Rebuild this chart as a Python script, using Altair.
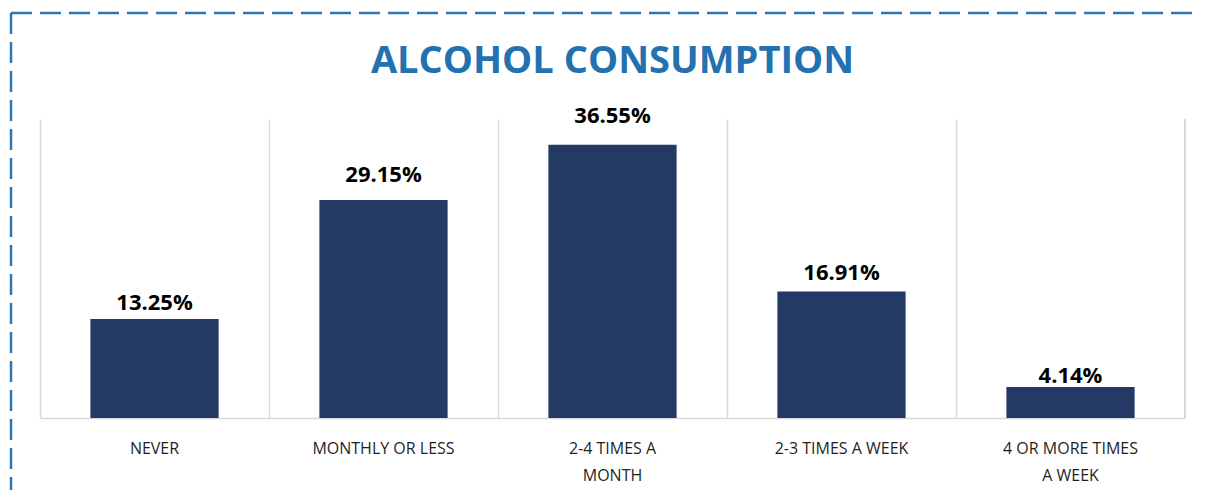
import altair as alt
import pandas as pd

categories = ["NEVER", "MONTHLY OR LESS", "2-4 TIMES A MONTH", "2-3 TIMES A WEEK", "4 OR MORE TIMES A WEEK"]
values = [13.25, 29.15, 36.55, 16.91, 4.14]
value_labels = ["13.25%", "29.15%", "36.55%", "16.91%", "4.14%"]
title_text = "ALCOHOL CONSUMPTION"

df = pd.DataFrame({"cat": categories, "val": values, "lbl": value_labels})

W, H = 1145, 299
BORDER = "#2E75B6"
GRID = "#D9D9D9"

x_enc = alt.X(
    "cat:N",
    sort=categories,
    title=None,
    scale=alt.Scale(paddingInner=0, paddingOuter=0),
    axis=alt.Axis(
        labelAngle=0,
        labelFont="Open Sans",
        labelFontSize=16,
        labelColor="#1F1F1F",
        labelBaseline="alphabetic",
        labelPadding=35,
        labelLineHeight=27,
        labelLimit=400,
        ticks=False,
        domainColor=GRID,
        domainWidth=1.5,
        grid=True,
        gridColor=GRID,
        gridWidth=1.5,
        bandPosition=0,
        labelExpr="datum.value == '2-4 TIMES A MONTH' ? ['2-4 TIMES A', 'MONTH'] : datum.value == '4 OR MORE TIMES A WEEK' ? ['4 OR MORE TIMES', 'A WEEK'] : datum.label",
    ),
)
y_enc = alt.Y("val:Q", scale=alt.Scale(domain=[0, 40]), axis=None)

base = alt.Chart(df)
bars = base.mark_bar(color="#243A64", width={"band": 0.56}).encode(x=x_enc, y=y_enc)
texts = base.mark_text(
    font="Open Sans", fontSize=22, fontWeight="bold", color="#000000",
    baseline="alphabetic", dy=-2
).encode(
    x=alt.X("cat:N", sort=categories),
    y=alt.Y("val:Q", scale=alt.Scale(domain=[0, 37.27]), axis=None),
    text="lbl:N",
)

right_edge = alt.Chart(df).mark_rule(color=GRID, strokeWidth=1.5).encode(
    x=alt.value(W), y=alt.value(0), y2=alt.value(H)
)

title = alt.Chart(pd.DataFrame({"t": [title_text]})).mark_text(
    font="Open Sans", fontSize=38, fontWeight="bold", color="#2471B0",
    baseline="alphabetic", align="center"
).encode(x=alt.value(W / 2), y=alt.value(-46), text="t:N")

border_top = alt.Chart(pd.DataFrame({"a": [0]})).mark_rule(
    color=BORDER, strokeWidth=2.5, strokeDash=[21, 8]
).encode(x=alt.value(-29), x2=alt.value(W + 40), y=alt.value(-106))
border_left = alt.Chart(pd.DataFrame({"a": [0]})).mark_rule(
    color=BORDER, strokeWidth=2.5, strokeDash=[21, 8]
).encode(x=alt.value(-29), y=alt.value(-106), y2=alt.value(H + 90))

chart = alt.layer(right_edge, bars, texts, title, border_top, border_left).resolve_scale(
    y="independent"
).properties(
    width=W,
    height=H,
    autosize=alt.AutoSizeParams(type="none"),
    padding={"left": 32, "top": 111, "right": 15, "bottom": 72},
).configure_view(stroke=None)

chart.save("out.html", embed_options={"renderer": "svg", "actions": False})
